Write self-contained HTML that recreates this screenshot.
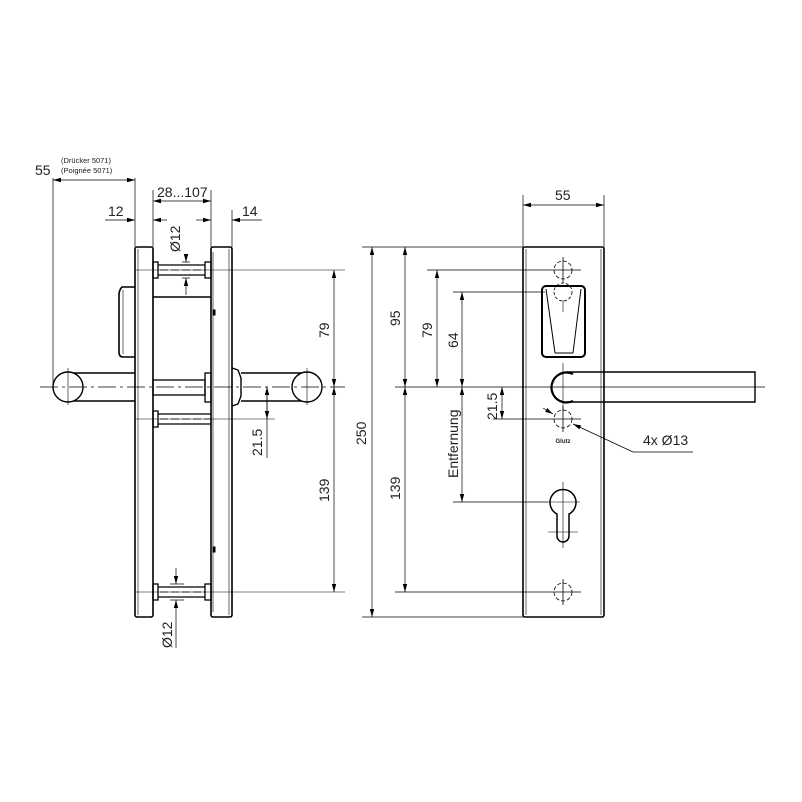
<!DOCTYPE html>
<html><head><meta charset="utf-8"><style>
html,body{margin:0;padding:0;background:#fff}
svg{display:block}
text{font-family:"Liberation Sans",sans-serif;fill:#222}
</style></head><body>
<svg width="802" height="802" viewBox="0 0 802 802" xmlns="http://www.w3.org/2000/svg">
<defs>
<marker id="a" markerWidth="8" markerHeight="6" refX="8" refY="3" orient="auto-start-reverse" markerUnits="userSpaceOnUse"><path d="M0,0.8 L8,3 L0,5.2Z" fill="#000"/></marker>
</defs>
<g stroke="#000" fill="none" stroke-width="1">
<!-- LEFT VIEW -->
<!-- plates -->
<rect x="135" y="247" width="18" height="370" rx="2" stroke-width="1.6"/>
<line x1="138" y1="249" x2="138" y2="615" stroke-width="0.6"/>
<rect x="211" y="247" width="21" height="370" rx="2" stroke-width="1.6"/>
<line x1="229" y1="249" x2="229" y2="615" stroke-width="0.6"/>
<line x1="153" y1="297" x2="211" y2="297" stroke-width="1.4"/>
<line x1="213" y1="252" x2="213" y2="612" stroke-width="0.6"/>
<rect x="213" y="310" width="2" height="5" fill="#000"/>
<rect x="213" y="547" width="2" height="5" fill="#000"/>
<!-- pins -->
<g stroke-width="1.3">
<rect x="153" y="262" width="5" height="16"/><rect x="205" y="262" width="6" height="16"/>
<line x1="158" y1="265" x2="205" y2="265"/><line x1="158" y1="275" x2="205" y2="275"/>
<rect x="153" y="411" width="5" height="16"/>
<line x1="158" y1="414" x2="211" y2="414"/><line x1="158" y1="424" x2="211" y2="424"/>
<rect x="153" y="584" width="5" height="16"/><rect x="205" y="584" width="6" height="16"/>
<line x1="158" y1="587" x2="205" y2="587"/><line x1="158" y1="597" x2="205" y2="597"/>
</g>
<!-- thumbturn -->
<path d="M135,287 L122,287 Q119,290 119,295 L119,352 Q119,357 123,357 L135,357" stroke-width="1.6"/>
<line x1="123" y1="290" x2="123" y2="354" stroke-width="0.6"/>
<!-- spindle -->
<rect x="153" y="380" width="52" height="15" stroke-width="1.3"/>
<rect x="205" y="373" width="6" height="29" stroke-width="1.3"/>
<!-- handles -->
<path d="M68,373 L135,373 M68,401 L135,401" stroke-width="1.4"/>
<circle cx="68" cy="387" r="15" fill="#fff" stroke-width="1.4"/>
<path d="M232,368 L238,370 L241,378 L241,396 L238,404 L232,406" stroke-width="1.4"/>
<path d="M241,373 L307,373 M241,401 L307,401" stroke-width="1.4"/>
<circle cx="307" cy="387" r="15" fill="#fff" stroke-width="1.4"/>
<!-- center lines -->
<line x1="40" y1="387" x2="345" y2="387" stroke-width="0.7" stroke-dasharray="18,4,3,4"/>
<line x1="68" y1="368" x2="68" y2="405" stroke-width="0.6"/>
<line x1="307" y1="368" x2="307" y2="405" stroke-width="0.6"/>
<line x1="135" y1="270" x2="345" y2="270" stroke-width="0.6"/>
<line x1="135" y1="592" x2="345" y2="592" stroke-width="0.6"/>
<line x1="135" y1="419" x2="275" y2="419" stroke-width="0.6"/>
<line x1="160" y1="270" x2="205" y2="270" stroke-width="0.7" stroke-dasharray="8,3"/>
<line x1="160" y1="592" x2="205" y2="592" stroke-width="0.7" stroke-dasharray="8,3"/>
<line x1="160" y1="419" x2="211" y2="419" stroke-width="0.7" stroke-dasharray="8,3"/>
<!-- dims left -->
<g stroke-width="0.7">
<line x1="53" y1="178" x2="53" y2="387"/><line x1="135" y1="178" x2="135" y2="247"/>
<line x1="53" y1="180" x2="135" y2="180" marker-start="url(#a)" marker-end="url(#a)"/>
<line x1="153" y1="190" x2="153" y2="247"/><line x1="211" y1="190" x2="211" y2="247"/>
<line x1="232" y1="210" x2="232" y2="247"/>
<line x1="153" y1="201" x2="211" y2="201" marker-start="url(#a)" marker-end="url(#a)"/>
<line x1="105" y1="220" x2="135" y2="220" marker-end="url(#a)"/>
<line x1="167" y1="220" x2="153" y2="220" marker-end="url(#a)"/>
<line x1="196" y1="220" x2="211" y2="220" marker-end="url(#a)"/>
<line x1="262" y1="220" x2="232" y2="220" marker-end="url(#a)"/>
<line x1="186" y1="255" x2="186" y2="262" marker-end="url(#a)"/>
<line x1="186" y1="295" x2="186" y2="278" marker-end="url(#a)"/>
<line x1="182" y1="262" x2="190" y2="262"/><line x1="182" y1="278" x2="190" y2="278"/>
<line x1="176" y1="568" x2="176" y2="584" marker-end="url(#a)"/>
<line x1="176" y1="648" x2="176" y2="600" marker-end="url(#a)"/>
<line x1="170" y1="584" x2="184" y2="584"/><line x1="170" y1="600" x2="184" y2="600"/>
<line x1="334" y1="270" x2="334" y2="387" marker-start="url(#a)" marker-end="url(#a)"/>
<line x1="334" y1="387" x2="334" y2="592" marker-start="url(#a)" marker-end="url(#a)"/>
<line x1="267" y1="387" x2="267" y2="458" />
<line x1="267" y1="405" x2="267" y2="387" marker-end="url(#a)"/>
<line x1="267" y1="405" x2="267" y2="419" marker-end="url(#a)"/>
</g>

<!-- RIGHT VIEW -->
<rect x="523" y="247" width="81" height="370" rx="2" stroke-width="1.6"/>
<line x1="526" y1="249" x2="526" y2="615" stroke-width="0.6"/>
<line x1="601" y1="249" x2="601" y2="615" stroke-width="0.6"/>
<!-- thumbturn -->
<rect x="542" y="286" width="43" height="71" rx="4" stroke-width="2"/>
<path d="M546,289 L555,353 M581,289 L573,353 M555,353 L573,353" stroke-width="1"/>
<circle cx="563" cy="292" r="9" stroke-width="0.8" stroke-dasharray="3,2"/>
<line x1="563" y1="300" x2="563" y2="312" stroke-width="0.6"/>
<!-- holes -->
<g stroke-width="0.8">
<circle cx="563" cy="270" r="9" stroke-dasharray="4,2"/>
<circle cx="563" cy="419" r="9" stroke-dasharray="4,2"/>
<circle cx="563" cy="592" r="9" stroke-dasharray="4,2"/>
<line x1="550" y1="270" x2="581" y2="270"/><line x1="563" y1="257" x2="563" y2="283"/>
<line x1="550" y1="419" x2="581" y2="419"/><line x1="563" y1="406" x2="563" y2="432"/>
<line x1="550" y1="592" x2="581" y2="592"/><line x1="563" y1="579" x2="563" y2="605"/>
</g>
<!-- keyhole -->
<path d="M557,536 L557,514 A13,13 0 1 1 569,514 L569,536 A6,6 0 0 1 557,536Z" stroke-width="1.5"/>
<line x1="548" y1="502" x2="580" y2="502" stroke-width="0.6"/>
<line x1="548" y1="532" x2="578" y2="532" stroke-width="0.6"/>
<line x1="563" y1="482" x2="563" y2="548" stroke-width="0.6"/>
<!-- handle -->
<path d="M573,374 A15,15 0 1 0 573,401" stroke-width="2.2"/>
<path d="M566,372 L755,372 L755,402 L566,402" stroke-width="1.4"/>
<line x1="563" y1="363" x2="563" y2="412" stroke-width="0.6"/>
<text x="563" y="443" font-size="6" text-anchor="middle" font-weight="bold" stroke="none">Glutz</text>
<!-- lines right -->
<g stroke-width="0.7">
<line x1="362" y1="247" x2="523" y2="247"/>
<line x1="362" y1="617" x2="523" y2="617"/>
<line x1="395" y1="387" x2="765" y2="387"/>
<line x1="427" y1="270" x2="550" y2="270"/>
<line x1="453" y1="292" x2="545" y2="292"/>
<line x1="395" y1="592" x2="550" y2="592"/>
<line x1="453" y1="502" x2="548" y2="502"/>
<line x1="493" y1="419" x2="550" y2="419"/>
<line x1="523" y1="195" x2="523" y2="247"/><line x1="604" y1="195" x2="604" y2="247"/>
<line x1="523" y1="205" x2="604" y2="205" marker-start="url(#a)" marker-end="url(#a)"/>
<line x1="372" y1="247" x2="372" y2="617" marker-start="url(#a)" marker-end="url(#a)"/>
<line x1="405" y1="247" x2="405" y2="387" marker-start="url(#a)" marker-end="url(#a)"/>
<line x1="405" y1="387" x2="405" y2="592" marker-start="url(#a)" marker-end="url(#a)"/>
<line x1="437" y1="270" x2="437" y2="387" marker-start="url(#a)" marker-end="url(#a)"/>
<line x1="462" y1="292" x2="462" y2="387" marker-start="url(#a)" marker-end="url(#a)"/>
<line x1="462" y1="387" x2="462" y2="502" marker-start="url(#a)" marker-end="url(#a)"/>
<line x1="502" y1="387" x2="502" y2="419" marker-start="url(#a)" marker-end="url(#a)"/>
<line x1="543" y1="408" x2="553" y2="414" marker-end="url(#a)"/>
<line x1="633" y1="452" x2="573" y2="424" marker-end="url(#a)"/>
<line x1="633" y1="452" x2="693" y2="452"/>
</g>
</g>
<!-- TEXT -->
<g font-size="14" fill="#222">
<text x="35" y="175">55</text>
<text x="61" y="163" font-size="7.5">(Drücker 5071)</text>
<text x="61" y="173" font-size="7.5">(Poignée 5071)</text>
<text x="157" y="197">28...107</text>
<text x="108" y="216">12</text>
<text x="242" y="216">14</text>
<text transform="translate(180,252) rotate(-90)">Ø12</text>
<text transform="translate(172,648) rotate(-90)">Ø12</text>
<text transform="translate(329,338) rotate(-90)">79</text>
<text transform="translate(329,502) rotate(-90)">139</text>
<text transform="translate(262,456) rotate(-90)">21.5</text>
<text x="555" y="200">55</text>
<text transform="translate(366,445) rotate(-90)">250</text>
<text transform="translate(400,326) rotate(-90)">95</text>
<text transform="translate(400,500) rotate(-90)">139</text>
<text transform="translate(432,338) rotate(-90)">79</text>
<text transform="translate(458,348) rotate(-90)">64</text>
<text transform="translate(458,478) rotate(-90)">Entfernung</text>
<text transform="translate(497,420) rotate(-90)">21.5</text>
<text x="643" y="445">4x Ø13</text>
</g>
</svg>
</body></html>
